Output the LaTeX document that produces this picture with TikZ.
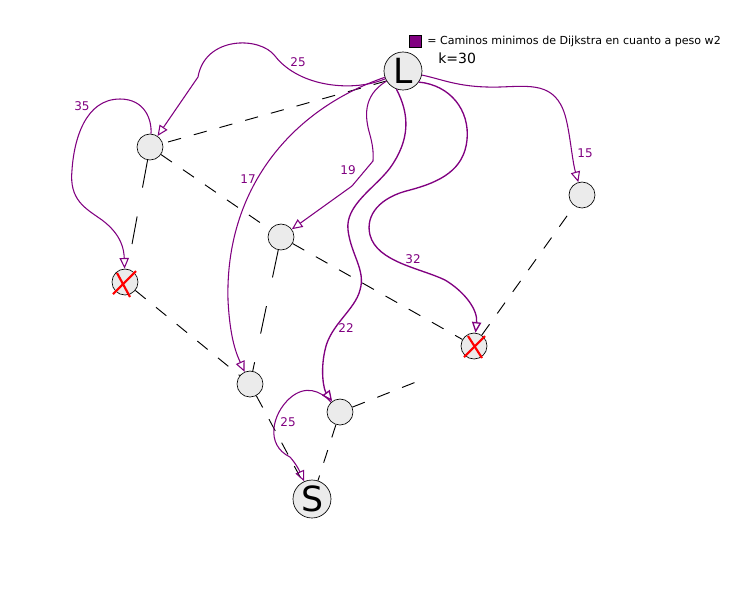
\documentclass[tikz,border=0pt]{standalone}
\usepackage{fontspec}
\setmainfont{DejaVu Sans}
\usetikzlibrary{arrows.meta}
\definecolor{morado}{RGB}{128,0,128}
\definecolor{relleno}{RGB}{235,235,235}
\begin{document}
\begin{tikzpicture}[x=0.75pt,y=0.75pt,yscale=-1,
    vertice/.style={circle,draw,line width=0.5pt,fill=relleno,minimum size=19.5pt,inner sep=0pt},
    extremo/.style={vertice,minimum size=28.5pt,font=\fontsize{26}{26}\selectfont},
    arista/.style={line width=0.7pt,dash pattern=on 10pt off 10pt},
    arista larga/.style={line width=0.7pt,dash pattern=on 21pt off 22pt},
    camino/.style={draw=morado,line width=0.8pt,-{Triangle[open,length=8pt,width=7pt]}},
    peso/.style={text=morado,font=\fontsize{9}{11}\selectfont},
    tachado/.style={red,line width=1.6pt}]
\useasboundingbox (0,0) rectangle (745,601);
% Nodes
\node[extremo] (L) at (403,71) {L};
\node[extremo] (S) at (312,499) {S};
\node[vertice] (A) at (150,147) {};
\node[vertice] (B) at (125,282) {};
\node[vertice] (C) at (281,237) {};
\node[vertice] (D) at (250,384) {};
\node[vertice] (E) at (340,412) {};
\node[vertice] (F) at (474,346) {};
\node[vertice] (G) at (582,195) {};
\coordinate (EF) at (421,380);
% Edges
\draw[arista] (L.211) -- (A);
\draw[arista larga] (A) -- (B);
\draw[arista] (A) -- (C);
\draw[arista] (B) -- (D);
\draw[arista larga] (C) -- (D);
\draw[arista] (C) -- (F);
\draw[arista] (D) -- (S);
\draw[arista] (E) -- (S);
\draw[arista] (E) -- (EF);
\draw[arista] (F) -- (G);
% Paths w2
\draw[camino] (L) .. controls (355,92) and (300,88) .. (275,56) .. controls (260,36) and (205,36) .. (198,77) -- (A);
\draw[camino] (A) .. controls (152,120) and (145,99) .. (120,99) .. controls (85,99) and (74,140) .. (72,170) .. controls (69,200) and (85,208) .. (102,220) .. controls (122,235) and (124,250) .. (B);
\draw[camino] (L) .. controls (290,110) and (225,190) .. (228,300) .. controls (230,340) and (237,355) .. (D);
\draw[camino] (L) .. controls (362,96) and (365,118) .. (370,135) .. controls (374,150) and (373,155) .. (373,161) -- (352,186) -- (C);
\draw[camino,line width=1pt] (L.250) .. controls (410,115) and (410,140) .. (390,168) .. controls (375,188) and (345,205) .. (348,230) .. controls (351,255) and (366,270) .. (360,290) .. controls (355,310) and (330,325) .. (325,350) .. controls (320,372) and (324,390) .. (E);
\draw[camino,line width=1pt] (L.-35) .. controls (450,85) and (470,110) .. (467,140) .. controls (464,170) and (440,182) .. (410,190) .. controls (380,197) and (365,215) .. (370,235) .. controls (377,262) and (420,268) .. (445,280) .. controls (465,292) and (478,310) .. (F);
\draw[camino] (L) .. controls (445,80) and (460,88) .. (500,87) .. controls (530,86) and (555,82) .. (565,115) .. controls (570,132) and (572,160) .. (G);
\draw[camino] (E) .. controls (320,390) and (305,385) .. (290,398) .. controls (272,414) and (265,445) .. (290,457) .. controls (297,465) and (300,472) .. (S);
% Weights
\node[peso] (p25a) at (298,62) {25};
\node[peso] (p35) at (82,106) {35};
\node[peso] (p17) at (248,179) {17};
\node[peso] (p19) at (348,170) {19};
\node[peso] (p22) at (346,328) {22};
\node[peso] (p32) at (413,259) {32};
\node[peso] (p15) at (585,153) {15};
\node[peso] (p25b) at (288,422) {25};
% Discarded
\draw[tachado] (113,294) -- (136,271);
\draw[tachado] (117,273) -- (130,297);
\draw[tachado] (464,357) -- (485,336);
\draw[tachado] (468,336) -- (482,358);
% Legend
\node[draw,line width=0.6pt,fill=morado,minimum size=9pt,inner sep=0pt] (cuadro) at (415,41) {};
\node[anchor=west,inner sep=0pt,font=\fontsize{8.3}{10}\selectfont] (leyenda) at (427,41) {= Caminos minimos de Dijkstra en cuanto a peso w2};
\node[anchor=west,inner sep=0pt,font=\fontsize{10.5}{12}\selectfont] (k) at (438,58) {k=30};
\end{tikzpicture}
\end{document}
